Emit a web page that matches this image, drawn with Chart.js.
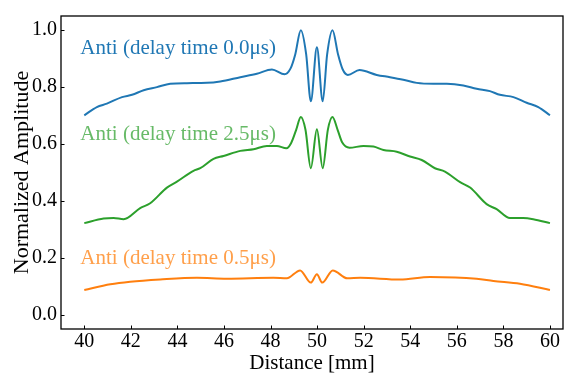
<!DOCTYPE html>
<html>
<head>
<meta charset="utf-8">
<script src="https://cdn.jsdelivr.net/npm/chart.js@4"></script>
<style>
  body { margin: 0; background: #fff; }
  #wrap { width: 564px; height: 373px; }
</style>
</head>
<body>
<div id="wrap"><canvas id="chart"></canvas></div>
<script>
// values
let xTicks = [40, 42, 44, 46, 48, 50, 52, 54, 56, 58, 60];
let yTicks = [0.0, 0.2, 0.4, 0.6, 0.8, 1.0];

let blueDist = [40.0, 40.54, 40.97, 41.62, 42.05, 42.55, 43.12, 43.69, 44.41, 45.27, 45.84, 46.70, 47.41, 48.06, 48.60, 48.86, 49.06, 49.30, 49.53, 49.73, 49.99, 50.24, 50.43, 50.66, 50.90, 51.10, 51.32, 51.82, 52.56, 53.13, 53.70, 54.28, 54.99, 55.57, 56.28, 56.85, 57.42, 57.85, 58.43, 59.0, 59.50, 60.0];
let blueAmp = [0.701, 0.730, 0.742, 0.765, 0.773, 0.789, 0.800, 0.812, 0.814, 0.815, 0.820, 0.835, 0.847, 0.862, 0.845, 0.866, 0.915, 1.000, 0.915, 0.750, 0.940, 0.750, 0.915, 1.000, 0.915, 0.862, 0.843, 0.860, 0.843, 0.835, 0.826, 0.815, 0.812, 0.812, 0.806, 0.794, 0.786, 0.773, 0.765, 0.745, 0.730, 0.701];

let greenDist = [40.0, 40.83, 41.26, 41.69, 42.40, 42.83, 43.55, 43.98, 44.69, 44.98, 45.55, 45.98, 46.70, 47.27, 47.84, 48.27, 48.68, 48.88, 49.10, 49.30, 49.50, 49.73, 49.99, 50.24, 50.46, 50.66, 50.88, 51.08, 51.39, 51.99, 52.42, 52.85, 53.42, 53.99, 54.49, 55.06, 55.49, 56.14, 56.57, 57.28, 57.71, 58.28, 58.85, 59.28, 60.0];
let greenAmp = [0.322, 0.338, 0.340, 0.336, 0.375, 0.392, 0.447, 0.468, 0.506, 0.515, 0.548, 0.558, 0.576, 0.582, 0.593, 0.593, 0.585, 0.603, 0.650, 0.695, 0.650, 0.515, 0.652, 0.515, 0.650, 0.695, 0.650, 0.605, 0.587, 0.593, 0.591, 0.579, 0.573, 0.556, 0.544, 0.515, 0.503, 0.466, 0.447, 0.389, 0.371, 0.340, 0.340, 0.336, 0.322];

let orangeDist = [40.0, 41.12, 41.97, 43.26, 44.84, 46.12, 48.12, 48.70, 49.27, 49.73, 49.99, 50.22, 50.67, 51.30, 51.85, 53.56, 54.85, 56.85, 57.57, 58.71, 60.0];
let orangeAmp = [0.087, 0.107, 0.116, 0.124, 0.130, 0.127, 0.130, 0.128, 0.156, 0.113, 0.142, 0.113, 0.156, 0.128, 0.130, 0.124, 0.133, 0.127, 0.119, 0.109, 0.087];

let labels = ['Anti (delay time 0.0\u03bcs)', 'Anti (delay time 2.5\u03bcs)', 'Anti (delay time 0.5\u03bcs)'];
let labelY = [0.937, 0.633, 0.199];

const serif = '"Liberation Serif", "Times New Roman", serif';
const colors = ['#1f77b4', '#2ca02c', '#ff7f0e'];
const textColors = ['#1f77b4', 'rgba(44,160,44,0.72)', 'rgba(255,127,14,0.75)'];

function points(xs, ys) {
    let pts = [];
    for (let i = 0; i < xs.length; i++) {
        pts.push({ x: xs[i], y: ys[i] });
    }
    return pts;
}

function line(xs, ys, color) {
    return {
        data: points(xs, ys),
        borderColor: color,
        borderWidth: 2,
        pointRadius: 0,
        fill: false,
        cubicInterpolationMode: 'monotone'
    };
}

// frame, inward ticks and text labels
const decorations = {
    id: 'decorations',
    afterDraw(chart) {
        const ctx = chart.ctx;
        const a = chart.chartArea;
        const xs = chart.scales.x;
        const ys = chart.scales.y;
        ctx.save();
        ctx.strokeStyle = '#000';
        ctx.lineWidth = 1;
        ctx.beginPath();
        xTicks.forEach(v => {
            let px = Math.round(xs.getPixelForValue(v)) + 0.5;
            ctx.moveTo(px, a.bottom);
            ctx.lineTo(px, a.bottom - 3.5);
        });
        yTicks.forEach(v => {
            let py = Math.round(ys.getPixelForValue(v)) + 0.5;
            ctx.moveTo(a.left, py);
            ctx.lineTo(a.left + 3.5, py);
        });
        ctx.stroke();
        ctx.lineWidth = 1.3;
        ctx.strokeRect(a.left, a.top, a.right - a.left, a.bottom - a.top);

        ctx.font = '21px ' + serif;
        ctx.textBaseline = 'middle';
        ctx.textAlign = 'left';
        for (let i = 0; i < labels.length; i++) {
            ctx.fillStyle = textColors[i];
            ctx.fillText(labels[i], xs.getPixelForValue(39.83), ys.getPixelForValue(labelY[i]));
        }
        ctx.restore();
    }
};

new Chart(document.getElementById('chart'), {
    type: 'line',
    data: {
        datasets: [
            line(blueDist, blueAmp, colors[0]),
            line(greenDist, greenAmp, colors[1]),
            line(orangeDist, orangeAmp, colors[2])
        ]
    },
    options: {
        responsive: true,
        maintainAspectRatio: false,
        animation: false,
        layout: { padding: { top: 14, right: 1, left: 0, bottom: 0 } },
        plugins: {
            legend: { display: false },
            tooltip: { enabled: false }
        },
        scales: {
            x: {
                type: 'linear',
                min: 39,
                max: 60.56,
                afterBuildTicks: s => { s.ticks = xTicks.map(v => ({ value: v })); },
                afterFit: s => { s.height = 44; },
                grid: { display: false, drawTicks: false },
                border: { display: false },
                ticks: {
                    color: '#000',
                    padding: 1,
                    maxRotation: 0,
                    font: { family: serif, size: 20 },
                    callback: v => String(v)
                },
                title: {
                    display: true,
                    text: 'Distance [mm]',
                    color: '#000',
                    font: { family: serif, size: 21 },
                    padding: { top: 0, bottom: -3 }
                }
            },
            y: {
                min: -0.05,
                max: 1.05,
                afterBuildTicks: s => { s.ticks = yTicks.map(v => ({ value: v })); },
                afterFit: s => { s.width = 61; },
                grid: { display: false, drawTicks: false },
                border: { display: false },
                ticks: {
                    color: '#000',
                    padding: 4,
                    font: { family: serif, size: 20 },
                    callback: v => v.toFixed(1)
                },
                title: {
                    display: true,
                    text: 'Normalized Amplitude',
                    color: '#000',
                    font: { family: serif, size: 22 },
                    padding: { top: 9, bottom: 0 }
                }
            }
        }
    },
    plugins: [decorations]
});
</script>
</body>
</html>
